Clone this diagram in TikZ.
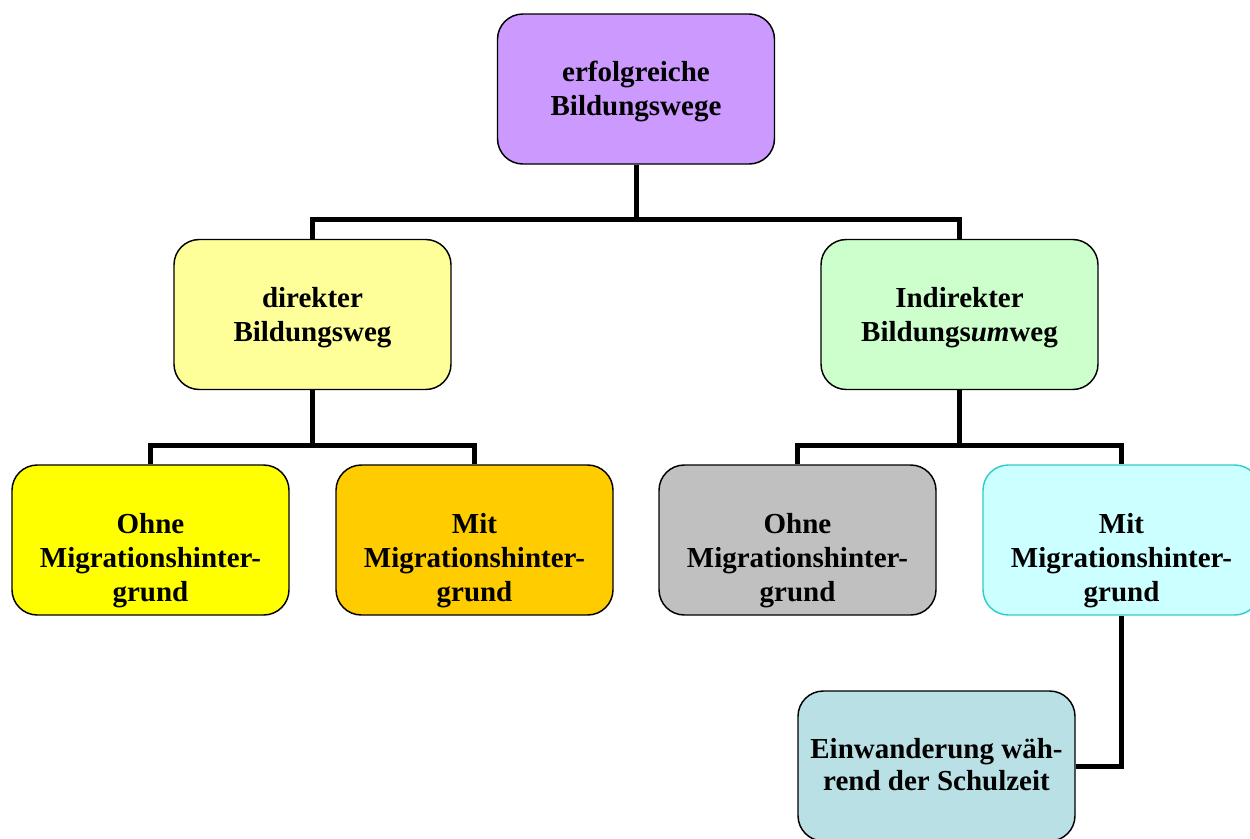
\documentclass[tikz,border=0pt]{standalone}
\usepackage{fontspec}
\setmainfont{Liberation Serif}
\begin{document}
\begin{tikzpicture}[x=0.75pt,y=-0.75pt,
  boxstyle/.style={draw=black, line width=1.1pt, rounded corners=19pt,
    minimum width=207.75pt, minimum height=112.5pt, inner sep=0pt},
  txt/.style={inner sep=0pt, align=center, font=\fontsize{21.75}{25.5}\selectfont\bfseries},
  conn/.style={line width=3.75pt, line join=miter}]
\definecolor{cpurple}{HTML}{CC99FF}
\definecolor{clyellow}{HTML}{FFFF99}
\definecolor{clgreen}{HTML}{CCFFCC}
\definecolor{cyellow}{HTML}{FFFF00}
\definecolor{corange}{HTML}{FFCC00}
\definecolor{cgray}{HTML}{C0C0C0}
\definecolor{ccyan}{HTML}{CCFFFF}
\definecolor{ccyanb}{HTML}{33CCCC}
\definecolor{cblue}{HTML}{B9E0E4}
\useasboundingbox (0,0) rectangle (1250,839);
\fill[white] (0,0) rectangle (1250,839);

\node[boxstyle, fill=cpurple] (top) at (636,89) {};
\node[boxstyle, fill=clyellow] (dir) at (312.5,314.5) {};
\node[boxstyle, fill=clgreen] (ind) at (959.5,314.5) {};
\node[boxstyle, fill=cyellow] (o1) at (150.5,540) {};
\node[boxstyle, fill=corange] (m1) at (474.5,540) {};
\node[boxstyle, fill=cgray] (o2) at (797.5,540) {};
\node[boxstyle, fill=ccyan, draw=ccyanb] (m2) at (1121.5,540) {};
\node[boxstyle, fill=cblue] (ein) at (936.5,766) {};

\node[txt] (topt) at (636,91) {erfolgreiche\\Bildungswege};
\node[txt] (dirt) at (312.5,318) {direkter\\Bildungsweg};
\node[txt] (indt) at (959.5,318) {Indirekter\\Bildungs\textit{um}weg};
\node[txt] (o1t) at (150.5,561) {Ohne\\Migrationshinter-\\grund};
\node[txt] (m1t) at (474.5,561) {Mit\\Migrationshinter-\\grund};
\node[txt] (o2t) at (797.5,561) {Ohne\\Migrationshinter-\\grund};
\node[txt] (m2t) at (1121.5,561) {Mit\\Migrationshinter-\\grund};
\node[txt, font=\fontsize{21.75}{24}\selectfont\bfseries] (eint) at (936.5,765) {Einwanderung wäh-\\rend der Schulzeit};

\draw[conn] (top.south) -- ++(0,55) -| (dir.north);
\draw[conn] (top.south) -- ++(0,55) -| (ind.north);
\draw[conn] (dir.south) -- ++(0,55) -| (o1.north);
\draw[conn] (dir.south) -- ++(0,55) -| (m1.north);
\draw[conn] (ind.south) -- ++(0,55) -| (o2.north);
\draw[conn] (ind.south) -- ++(0,55) -| (m2.north);
\draw[conn] (m2.south) |- (ein.east);
\end{tikzpicture}
\end{document}
